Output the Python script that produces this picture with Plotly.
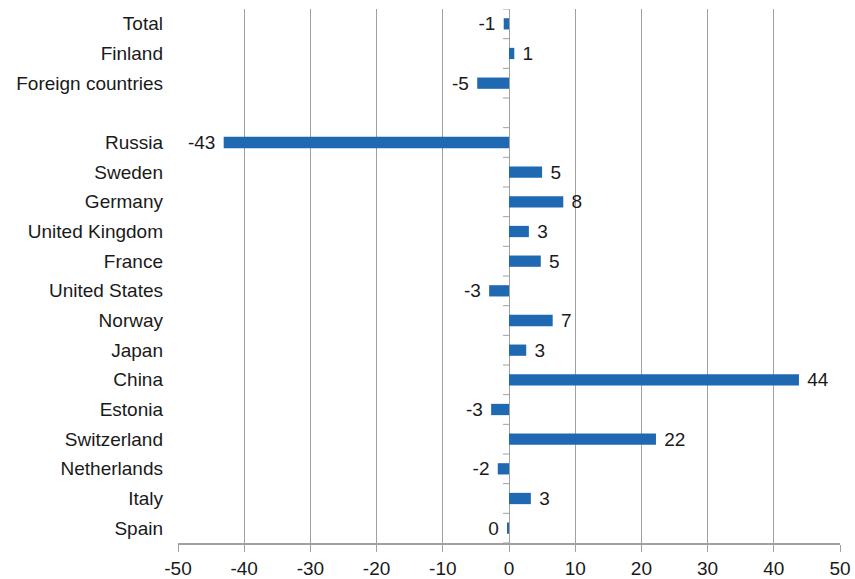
import plotly.graph_objects as go

categories = ["Total", "Finland", "Foreign countries", "", "Russia", "Sweden", "Germany",
              "United Kingdom", "France", "United States", "Norway", "Japan", "China",
              "Estonia", "Switzerland", "Netherlands", "Italy", "Spain"]
values = [-0.8, 0.8, -4.8, None, -43.1, 5.0, 8.2, 3.0, 4.8, -3.0, 6.6, 2.6, 43.8,
          -2.7, 22.2, -1.7, 3.3, -0.3]
x_ticks = [-50, -40, -30, -20, -10, 0, 10, 20, 30, 40, 50]

pos = list(range(len(categories)))
xs = [v for v in values if v is not None]
ys = [p for p, v in zip(pos, values) if v is not None]
NB = "\u00a0"
labels = [(f"{int(round(v))}{NB}" if v < 0 else f"{NB}{int(round(v))}") for v in xs]

FONT = "Liberation Sans, Arial"
FS = 19
TXT = "#1a1a1a"

fig = go.Figure()
fig.add_trace(go.Bar(
    x=xs, y=ys, orientation="h", width=0.38,
    marker=dict(color="#1f68b2", line=dict(width=0)),
    text=labels, textposition="outside", cliponaxis=False, constraintext="none",
    textfont=dict(family=FONT, size=FS, color=TXT),
    hoverinfo="skip",
))

shapes = []
for i in range(len(categories) + 1):
    shapes.append(dict(type="line", xref="x", yref="y", xsizemode="pixel", xanchor=0,
                       x0=-6, x1=0, y0=i - 0.5, y1=i - 0.5,
                       line=dict(color="#a0a0a0", width=1)))
fig.update_layout(shapes=shapes)

fig.update_layout(
    width=855, height=579,
    margin=dict(l=178, r=15, t=9, b=36),
    paper_bgcolor="white", plot_bgcolor="white",
    showlegend=False,
    font=dict(family=FONT, size=FS, color=TXT),
    xaxis=dict(range=[-50, 50], tickvals=x_ticks, ticktext=[str(t) for t in x_ticks],
               showgrid=True, gridcolor="#a0a0a0", gridwidth=1,
               zeroline=True, zerolinecolor="#a0a0a0", zerolinewidth=1,
               showline=True, linecolor="#a0a0a0", linewidth=1.5,
               ticks="outside", ticklen=7, tickcolor="#a0a0a0",
               tickfont=dict(size=FS), automargin=False, fixedrange=True),
    yaxis=dict(range=[len(categories) - 0.5, -0.5], tickvals=pos, ticktext=categories,
               showgrid=False, zeroline=False, showline=False, ticks="",
               ticklabelstandoff=14, tickfont=dict(size=FS), automargin=False,
               fixedrange=True),
)

fig.write_html("out.html", config={"displayModeBar": False},
               post_script="document.body.style.margin='0';")
